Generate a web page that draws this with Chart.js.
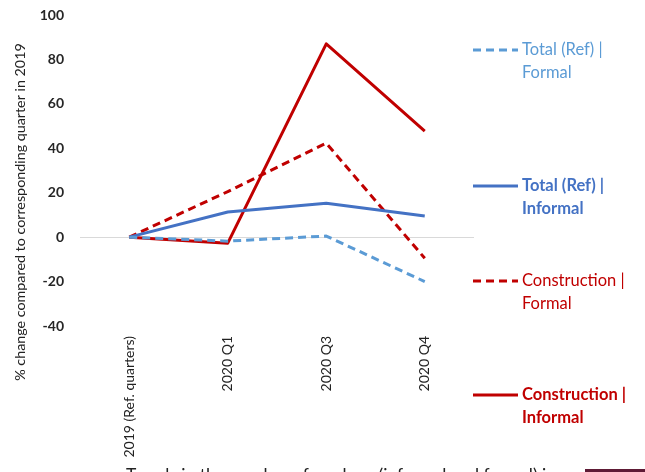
<!DOCTYPE html>
<html lang="en">
<head>
<meta charset="UTF-8">
<title>Workers trend</title>
<style>
  html, body { margin:0; padding:0; background:#fff; width:645px; height:472px; overflow:hidden; }
  #wrap { position:absolute; left:0; top:0; width:645px; height:472px; }
  #foot { position:absolute; left:126px; top:466px; font:17.5px/17px Lato, sans-serif; color:#222; white-space:nowrap; }
  #box { position:absolute; left:585px; top:469px; width:60px; height:10px; background:#5e1a35; }
</style>
</head>
<body>
<div id="wrap"><canvas id="chart" width="645" height="472"></canvas></div>
<div id="foot">Trends in the number of workers (informal and formal) in</div>
<div id="box"></div>
<script src="https://cdn.jsdelivr.net/npm/chart.js"></script>
<script>
// categories and series
const quarters = ['2019 (Ref. quarters)', '2020 Q1', '2020 Q3', '2020 Q4'];
const totalFormal = [0, -1.8, 0.5, -20];
const totalInformal = [0, 11.3, 15.3, 9.5];
const constrFormal = [0, 20.5, 42.3, -9.5];
const constrInformal = [0, -2.7, 87, 47.7];
const yTicks = [100, 80, 60, 40, 20, 0, -20, -40];
const yTitle = '% change compared to corresponding quarter in 2019';

const seriesNames = [
  ['Total (Ref) |', 'Formal'],
  ['Total (Ref) |', 'Informal'],
  ['Construction |', 'Formal'],
  ['Construction |', 'Informal']
];
const colors = ['#5b9bd5', '#4472c4', '#c00000', '#c00000'];
const dashed = [true, false, true, false];
const legendY = [50, 186, 281, 395];

function ds(i, data) {
  return {
    label: seriesNames[i].join(' '),
    data: data,
    borderColor: colors[i],
    backgroundColor: colors[i],
    borderWidth: 3,
    borderDash: dashed[i] ? [8, 5] : [],
    borderJoinStyle: 'round',
    pointRadius: 0,
    tension: 0,
    fill: false
  };
}

// right-hand legend and axis title drawn like the source
const sideLegend = {
  id: 'sideLegend',
  afterDraw(chart) {
    const ctx = chart.ctx;
    ctx.save();
    for (let i = 0; i < 4; i++) {
      let y = legendY[i];
      ctx.strokeStyle = colors[i];
      ctx.lineWidth = 3;
      ctx.setLineDash(dashed[i] ? [8, 5] : []);
      ctx.beginPath();
      ctx.moveTo(473, y);
      ctx.lineTo(518, y);
      ctx.stroke();
      ctx.setLineDash([]);
      ctx.fillStyle = colors[i];
      ctx.font = (dashed[i] ? '' : 'bold ') + '16.5px Lato, sans-serif';
      ctx.textBaseline = 'middle';
      ctx.textAlign = 'left';
      ctx.fillText(seriesNames[i][0], 522, y);
      ctx.fillText(seriesNames[i][1], 522, y + 23);
    }
    // y title
    ctx.translate(20, 212);
    ctx.rotate(-Math.PI / 2);
    ctx.fillStyle = '#222';
    ctx.font = '14.3px Lato, sans-serif';
    ctx.textAlign = 'center';
    ctx.fillText(yTitle, 0, 0);
    ctx.restore();
  }
};

new Chart(document.getElementById('chart').getContext('2d'), {
  type: 'line',
  data: {
    labels: quarters,
    datasets: [ds(0, totalFormal), ds(1, totalInformal), ds(2, constrFormal), ds(3, constrInformal)]
  },
  options: {
    responsive: false,
    animation: false,
    layout: { padding: { top: 15, right: 171, bottom: 0, left: 0 } },
    plugins: { legend: { display: false }, tooltip: { enabled: false } },
    scales: {
      x: {
        offset: true,
        grid: { display: false, drawTicks: false },
        border: { display: false },
        ticks: { minRotation: 90, maxRotation: 90, color: '#222', font: { family: 'Lato', size: 14 }, padding: 10 },
        afterFit(s) { s.height = 146; }
      },
      y: {
        min: -40, max: 100,
        afterBuildTicks(s) { s.ticks = yTicks.map(v => ({ value: v })); },
        grid: {
          drawTicks: false,
          color: ctx => ctx.tick && ctx.tick.value === 0 ? '#d9d9d9' : 'rgba(0,0,0,0)'
        },
        border: { display: false },
        ticks: { color: '#262626', font: { family: 'Lato', size: 14, weight: 'bold' }, padding: 16 },
        afterFit(s) { s.width = 80; s.paddingTop = 0; s.paddingBottom = 0; }
      }
    }
  },
  plugins: [sideLegend]
});
</script>
</body>
</html>
